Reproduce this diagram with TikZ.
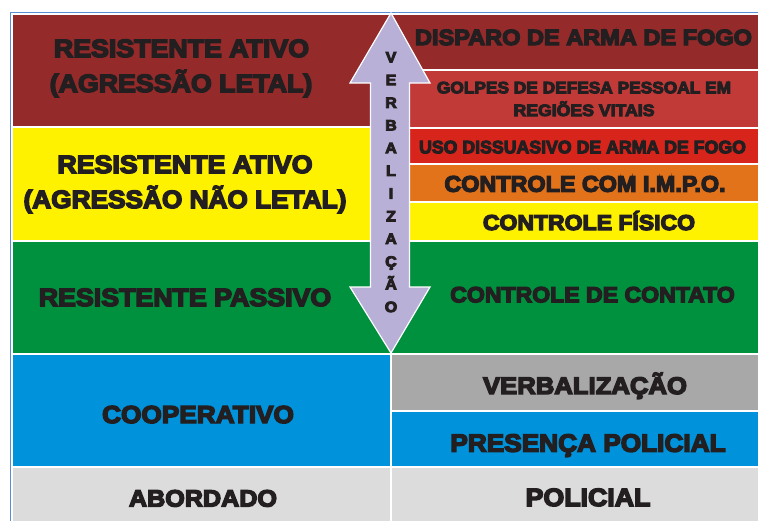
\documentclass[tikz,border=0pt]{standalone}
\usepackage{fontspec}
\newfontfamily\heavy{Liberation Sans Bold}[FakeBold=6,FakeStretch=1.07]
\definecolor{ink}{HTML}{231F20}
\definecolor{darkred}{HTML}{952A2A}
\definecolor{midred}{HTML}{C23A38}
\definecolor{brightred}{HTML}{D8251C}
\definecolor{orangec}{HTML}{E3731B}
\definecolor{yellowc}{HTML}{FFF200}
\definecolor{greenc}{HTML}{00913F}
\definecolor{bluec}{HTML}{0092DA}
\definecolor{grayc}{HTML}{A8A8A8}
\definecolor{lightc}{HTML}{DCDCDC}
\definecolor{arrowc}{HTML}{B8B0D7}
\definecolor{framec}{HTML}{5B8ED0}
\begin{document}
\begin{tikzpicture}[x=1pt,y=-1pt,
  cell/.style={draw=white,line width=1.2pt},
  lb/.style={font=\heavy\fontsize{#1}{#1}\selectfont, text=ink, anchor=base, inner sep=0pt}]
\useasboundingbox (0,0) rectangle (758,520);
\clip (0,0) rectangle (758,520);
% frame
\draw[framec, line width=1pt] (10.5,521) -- (10.5,12.5) -- (759,12.5);
% left column
\path[cell, fill=darkred]  (12,14) rectangle (391,127);
\path[cell, fill=yellowc]  (12,127) rectangle (391,241);
\path[cell, fill=greenc]   (12,241) rectangle (391,354);
\path[cell, fill=bluec]    (12,354) rectangle (391,467);
\path[cell, fill=lightc]   (12,467) rectangle (391,522);
% right column
\path[cell, fill=darkred]   (391,14) rectangle (760,70);
\path[cell, fill=midred]    (391,70) rectangle (760,128);
\path[cell, fill=brightred] (391,128) rectangle (760,164);
\path[cell, fill=orangec]   (391,164) rectangle (760,202);
\path[cell, fill=yellowc]   (391,202) rectangle (760,241);
\path[cell, fill=greenc]    (391,241) rectangle (760,354);
\path[cell, fill=grayc]     (391,354) rectangle (760,411);
\path[cell, fill=bluec]     (391,411) rectangle (760,467);
\path[cell, fill=lightc]    (391,467) rectangle (760,522);
% left labels
\node[lb=25] (la1) at (181.5,57) {RESISTENTE ATIVO};
\node[lb=25] (la2) at (181,92) {(AGRESSÃO LETAL)};
\node[lb=25] (lb1) at (185,173) {RESISTENTE ATIVO};
\node[lb=25] (lb2) at (185,208) {\scalebox{0.98}[1]{(AGRESSÃO NÃO LETAL)}};
\node[lb=25] (lc) at (185,306) {RESISTENTE PASSIVO};
\node[lb=24.5] (ld) at (198,423) {COOPERATIVO};
\node[lb=23.5] (le) at (203,506.5) {ABORDADO};
% right labels
\node[lb=22] (ra) at (583.5,45) {DISPARO DE ARMA DE FOGO};
\node[lb=16.5] (rb1) at (584,93.3) {\scalebox{0.98}[1]{GOLPES DE DEFESA PESSOAL EM}};
\node[lb=16.5] (rb2) at (584,116) {REGIÕES VITAIS};
\node[lb=18] (rc) at (582.5,153.3) {\scalebox{0.92}[1]{USO DISSUASIVO DE ARMA DE FOGO}};
\node[lb=22.5] (rd) at (585,191.7) {\scalebox{0.97}[1]{CONTROLE COM I.M.P.O.}};
\node[lb=21.5] (re) at (589,230) {CONTROLE FÍSICO};
\node[lb=22] (rf) at (592.5,302.3) {\scalebox{0.98}[1]{CONTROLE DE CONTATO}};
\node[lb=24] (rg) at (585,394) {VERBALIZAÇÃO};
\node[lb=25] (rh) at (588,451.7) {\scalebox{0.98}[1]{PRESENÇA POLICIAL}};
\node[lb=25] (ri) at (588,506) {POLICIAL};
% arrow
\draw[fill=arrowc, draw=white, line width=1.2pt, line join=miter]
  (391,13) -- (430,83) -- (409.5,83) -- (409.5,287) -- (430,287) -- (391,353)
  -- (350,287) -- (370.5,287) -- (370.5,83) -- (350,83) -- cycle;
\foreach \l [count=\i] in {V,E,R,B,A,L,I,Z,A,Ç,Ã,O}
  \node[lb=15, anchor=base, name=L\i] at (391,{62.4+22.7*(\i-1)}) {\l};
\end{tikzpicture}
\end{document}
